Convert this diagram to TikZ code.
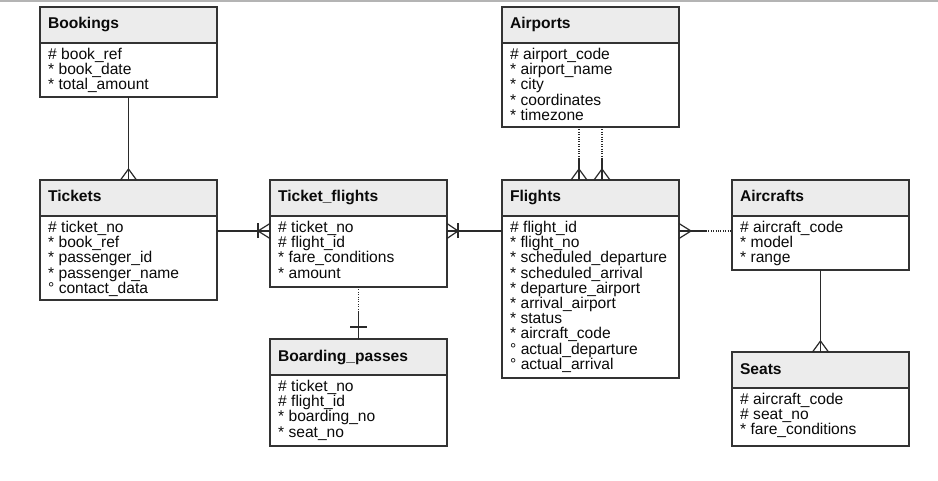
\documentclass[tikz,border=0pt]{standalone}
\usepackage{fontspec}
\setmainfont{Liberation Sans}
\usetikzlibrary{calc}
\definecolor{boxc}{HTML}{333333}
\definecolor{headc}{HTML}{ECECEC}
\definecolor{linec}{HTML}{2A2A2A}
\definecolor{topc}{HTML}{B4B4B4}
\definecolor{txtc}{HTML}{0A0A0A}
\tikzset{
  ebox/.style={draw=boxc, line width=1.3pt, minimum width=177pt, inner sep=0pt, outer sep=0pt, rectangle},
  ehead/.style={draw=boxc, line width=1.3pt, fill=headc, minimum width=177pt, minimum height=36pt,
    text width=161pt, align=left, inner xsep=8pt, inner ysep=0pt, text height=11pt, text depth=3pt,
    font=\fontsize{15.6}{15.6}\selectfont\bfseries, text=txtc, outer sep=0pt, anchor=north west},
  eline/.style={anchor=base west, inner sep=0pt, font=\fontsize{15.6}{15.6}\selectfont, text=txtc},
  conn/.style={draw=linec, line width=1.2pt},
  dotconn/.style={draw=linec, line width=1.2pt, dash pattern=on 1pt off 1.4pt},
}
\newcommand\erentity[6]{%
  \node[ebox, minimum height=#4pt, anchor=north west] (#1) at (#2,#3) {};
  \node[ehead] (#1-h) at (#2,#3) {#5};
  \foreach \etext [count=\i] in {#6} {
    \node[eline] (#1-\i) at ($(#1-h.south west)+(8,16.5+15.2*\i-15.2)$) {\etext};
  }
  \draw[boxc, line width=1.3pt] (#1.north west) rectangle (#1.south east);
}
\begin{document}
\begin{tikzpicture}[x=1pt, y=-1pt]
\useasboundingbox (0,0) rectangle (938,481);
\fill[white] (0,0) rectangle (938,481);
\draw[topc, line width=1.5pt] (0,1) -- (938,1);

\erentity{bookings}{40}{7}{90}{Bookings}{\# book\_ref, * book\_date, * total\_amount}
\erentity{tickets}{40}{180}{120}{Tickets}{\# ticket\_no, * book\_ref, * passenger\_id, * passenger\_name, ° contact\_data}
\erentity{tflights}{270}{180}{107}{Ticket\_flights}{\# ticket\_no, \# flight\_id, * fare\_conditions, * amount}
\erentity{bpasses}{270}{339}{107}{Boarding\_passes}{\# ticket\_no, \# flight\_id, * boarding\_no, * seat\_no}
\erentity{airports}{502}{7}{120}{Airports}{\# airport\_code, * airport\_name, * city, * coordinates, * timezone}
\erentity{flights}{502}{180}{198}{Flights}{\# flight\_id, * flight\_no, * scheduled\_departure, * scheduled\_arrival, * departure\_airport, * arrival\_airport, * status, * aircraft\_code, ° actual\_departure, ° actual\_arrival}
\erentity{aircrafts}{732}{180}{90}{Aircrafts}{\# aircraft\_code, * model, * range}
\erentity{seats}{732}{352}{94}{Seats}{\# aircraft\_code, \# seat\_no, * fare\_conditions}

\coordinate (row) at (0,231);

% Bookings - Tickets
\draw[conn] (bookings.south) -- (tickets.north);
\draw[conn] ($(tickets.north)+(-8,0)$) -- ($(tickets.north)+(0,-11)$) -- ($(tickets.north)+(8,0)$);

% Tickets - Ticket_flights
\coordinate (tfw) at (tflights.west |- row);
\draw[conn] (tickets.east |- row) -- (tfw);
\draw[conn] ($(tfw)+(0,-7.5)$) -- ($(tfw)+(-12,0)$) -- ($(tfw)+(0,7.5)$);
\draw[conn] ($(tfw)+(-12,-7.5)$) -- ($(tfw)+(-12,7.5)$);

% Ticket_flights - Flights
\coordinate (tfe) at (tflights.east |- row);
\draw[conn] (tfe) -- (flights.west |- row);
\draw[conn] ($(tfe)+(0,-7.5)$) -- ($(tfe)+(11,0)$) -- ($(tfe)+(0,7.5)$);
\draw[conn] ($(tfe)+(11,-7.5)$) -- ($(tfe)+(11,7.5)$);

% Ticket_flights - Boarding_passes
\coordinate (bpk) at ($(bpasses.north)+(0,-27)$);
\draw[dotconn] (tflights.south) -- (bpk);
\draw[conn] (bpk) -- (bpasses.north);
\draw[conn] ($(bpasses.north)+(-8.5,-12)$) -- ($(bpasses.north)+(8.5,-12)$);

% Airports - Flights (two relations)
\foreach \dx in {-11.5, 11.5} {
  \coordinate (afk) at ($(flights.north)+(\dx,-22)$);
  \coordinate (afe) at ($(flights.north)+(\dx,0)$);
  \draw[dotconn] ($(airports.south)+(\dx,0)$) -- (afk);
  \draw[conn] (afk) -- (afe);
  \draw[conn] ($(afe)+(-8,0)$) -- ($(afe)+(0,-11)$) -- ($(afe)+(8,0)$);
}

% Flights - Aircrafts
\coordinate (fe) at (flights.east |- row);
\coordinate (fk) at ($(fe)+(27,0)$);
\draw[conn] (fe) -- (fk);
\draw[dotconn] (fk) -- (aircrafts.west |- row);
\draw[conn] ($(fe)+(0,-7.5)$) -- ($(fe)+(12,0)$) -- ($(fe)+(0,7.5)$);

% Aircrafts - Seats
\draw[conn] (aircrafts.south) -- (seats.north);
\draw[conn] ($(seats.north)+(-8,0)$) -- ($(seats.north)+(0,-11)$) -- ($(seats.north)+(8,0)$);
\end{tikzpicture}
\end{document}
